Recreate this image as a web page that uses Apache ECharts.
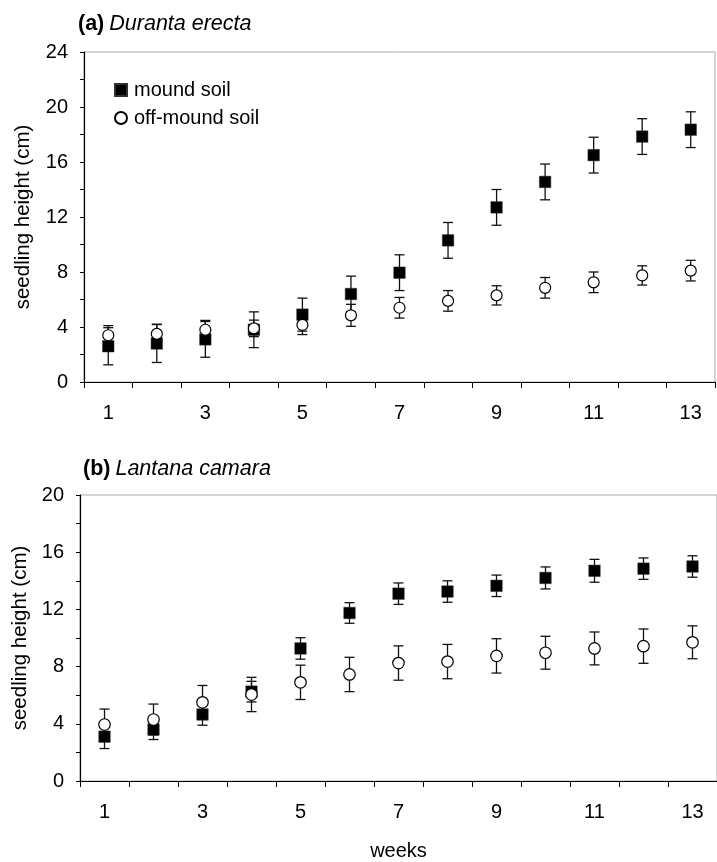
<!DOCTYPE html>
<html>
<head>
<meta charset="utf-8">
<script src="https://cdn.jsdelivr.net/npm/echarts@6/dist/echarts.min.js"></script>
<style>
html,body{margin:0;padding:0;background:#fff;}
#chart{width:717px;height:862px;}
</style>
</head>
<body>
<div id="chart"></div>
<script>
const weeks = ['1','2','3','4','5','6','7','8','9','10','11','12','13'];

// (a) Duranta erecta
const durMound    = [2.6, 2.8, 3.1, 3.8, 4.9, 6.4, 7.95, 10.3, 12.7, 14.55, 16.5, 17.85, 18.35];
const durMoundErr = [1.35, 1.38, 1.3, 1.3, 1.2, 1.3, 1.3, 1.3, 1.3, 1.3, 1.3, 1.3, 1.3];
const durOff      = [3.4, 3.5, 3.8, 3.9, 4.15, 4.85, 5.4, 5.9, 6.3, 6.85, 7.25, 7.75, 8.1];
const durOffErr   = [0.7, 0.7, 0.68, 0.6, 0.7, 0.8, 0.75, 0.75, 0.7, 0.75, 0.75, 0.7, 0.75];

// (b) Lantana camara
const lanMound    = [3.1, 3.6, 4.65, 6.25, 9.27, 11.75, 13.1, 13.25, 13.65, 14.2, 14.7, 14.85, 15.0];
const lanMoundErr = [0.83, 0.7, 0.75, 0.72, 0.75, 0.72, 0.75, 0.75, 0.75, 0.77, 0.8, 0.75, 0.75];
const lanOff      = [3.95, 4.3, 5.5, 6.05, 6.9, 7.45, 8.25, 8.35, 8.75, 8.97, 9.27, 9.43, 9.7];
const lanOffErr   = [1.08, 1.08, 1.18, 1.2, 1.2, 1.2, 1.2, 1.2, 1.2, 1.15, 1.15, 1.2, 1.15];

const yTicksA = {min: 0, max: 24, interval: 4};
const yTicksB = {min: 0, max: 20, interval: 4};

const FONT = "'Liberation Sans', Arial, sans-serif";

function pts(vals) { return vals.map((v, i) => [i, v]); }
function errPts(vals, errs) { return vals.map((v, i) => [i, v, errs[i]]); }

function errRender(params, api) {
  const x = api.value(0), y = api.value(1), e = api.value(2);
  const top = api.coord([x, y + e]);
  const bot = api.coord([x, y - e]);
  const hw = 5;
  const st = {stroke: '#111', lineWidth: 1.3};
  return {
    type: 'group',
    children: [
      {type: 'line', shape: {x1: top[0], y1: top[1], x2: bot[0], y2: bot[1]}, style: st},
      {type: 'line', shape: {x1: top[0] - hw, y1: top[1], x2: top[0] + hw, y2: top[1]}, style: st},
      {type: 'line', shape: {x1: bot[0] - hw, y1: bot[1], x2: bot[0] + hw, y2: bot[1]}, style: st}
    ]
  };
}

function xAxisDef(gridIndex, withName) {
  const a = {
    type: 'category', gridIndex: gridIndex, data: weeks, boundaryGap: true,
    axisLine: {show: true, lineStyle: {color: '#000', width: 1.2}},
    axisTick: {show: true, interval: 0, length: 6, lineStyle: {color: '#000'}},
    axisLabel: {interval: 1, margin: 21, fontSize: 20, color: '#000', fontFamily: FONT},
    splitLine: {show: false}
  };
  if (withName) {
    a.name = 'weeks';
    a.nameLocation = 'middle';
    a.nameGap = 60;
    a.nameTextStyle = {fontSize: 20, color: '#000', fontFamily: FONT};
  }
  return a;
}

function yAxisDef(gridIndex, ticks, gap) {
  return {
    type: 'value', gridIndex: gridIndex, min: ticks.min, max: ticks.max, interval: ticks.interval,
    name: 'seedling height (cm)', nameLocation: 'middle', nameGap: gap,
    nameTextStyle: {fontSize: 20.5, color: '#000', fontFamily: FONT},
    axisLine: {show: true, lineStyle: {color: '#000', width: 1.2}},
    axisTick: {show: true, length: 4, lineStyle: {color: '#000'}},
    minorTick: {show: true, splitNumber: 2, length: 4, lineStyle: {color: '#000'}},
    axisLabel: {margin: 16, fontSize: 20, color: '#000', fontFamily: FONT},
    splitLine: {show: false}
  };
}

const richTitle = {
  b: {fontWeight: 'bold', fontSize: 21.5, color: '#000', fontFamily: FONT},
  i: {fontStyle: 'italic', fontWeight: 'normal', fontSize: 21.5, color: '#000', fontFamily: FONT}
};

const chart = echarts.init(document.getElementById('chart'), null, {renderer: 'canvas'});
const option = {
  animation: false,
  backgroundColor: '#fff',
  textStyle: {fontFamily: FONT},
  title: [
    {text: '{b|(a)} {i|Duranta erecta}', left: 73, top: 8,
     textStyle: {fontWeight: 'normal', rich: richTitle}},
    {text: '{b|(b)} {i|Lantana camara}', left: 78, top: 453,
     textStyle: {fontWeight: 'normal', rich: richTitle}}
  ],
  legend: {
    data: ['mound soil', 'off-mound soil'],
    orient: 'vertical', left: 109, top: 75,
    itemWidth: 12, itemHeight: 12, itemGap: 8,
    textStyle: {fontSize: 20, color: '#000', fontFamily: FONT, padding: [0, 0, 0, 2]},
    selectedMode: false
  },
  grid: [
    {left: 84, top: 52, width: 631, height: 330, show: true, borderColor: '#aaa', borderWidth: 1, backgroundColor: 'transparent'},
    {left: 80, top: 495, width: 645, height: 289, show: true, borderColor: '#aaa', borderWidth: 1, backgroundColor: 'transparent'}
  ],
  xAxis: [xAxisDef(0, false), xAxisDef(1, true)],
  yAxis: [yAxisDef(0, yTicksA, 50), yAxisDef(1, yTicksB, 46)],
  series: [
    {type: 'custom', xAxisIndex: 0, yAxisIndex: 0, renderItem: errRender, encode: {x: 0, y: 1}, data: errPts(durMound, durMoundErr), z: 1},
    {type: 'custom', xAxisIndex: 0, yAxisIndex: 0, renderItem: errRender, encode: {x: 0, y: 1}, data: errPts(durOff, durOffErr), z: 1},
    {name: 'mound soil', type: 'scatter', xAxisIndex: 0, yAxisIndex: 0, symbol: 'rect', symbolSize: 11.5,
     itemStyle: {color: '#000', borderColor: '#333', borderWidth: 0.5, opacity: 1}, data: pts(durMound), z: 3},
    {name: 'off-mound soil', type: 'scatter', xAxisIndex: 0, yAxisIndex: 0, symbol: 'circle', symbolSize: 11,
     itemStyle: {color: '#fff', borderColor: '#000', borderWidth: 1.2, opacity: 1}, data: pts(durOff), z: 4},

    {type: 'custom', xAxisIndex: 1, yAxisIndex: 1, renderItem: errRender, encode: {x: 0, y: 1}, data: errPts(lanMound, lanMoundErr), z: 1},
    {type: 'custom', xAxisIndex: 1, yAxisIndex: 1, renderItem: errRender, encode: {x: 0, y: 1}, data: errPts(lanOff, lanOffErr), z: 1},
    {name: 'mound soil', type: 'scatter', xAxisIndex: 1, yAxisIndex: 1, symbol: 'rect', symbolSize: 11.5,
     itemStyle: {color: '#000', borderColor: '#333', borderWidth: 0.5, opacity: 1}, data: pts(lanMound), z: 3},
    {name: 'off-mound soil', type: 'scatter', xAxisIndex: 1, yAxisIndex: 1, symbol: 'circle', symbolSize: 11.5,
     itemStyle: {color: '#fff', borderColor: '#000', borderWidth: 1.2, opacity: 1}, data: pts(lanOff), z: 4}
  ]
};
chart.setOption(option);
</script>
</body>
</html>
